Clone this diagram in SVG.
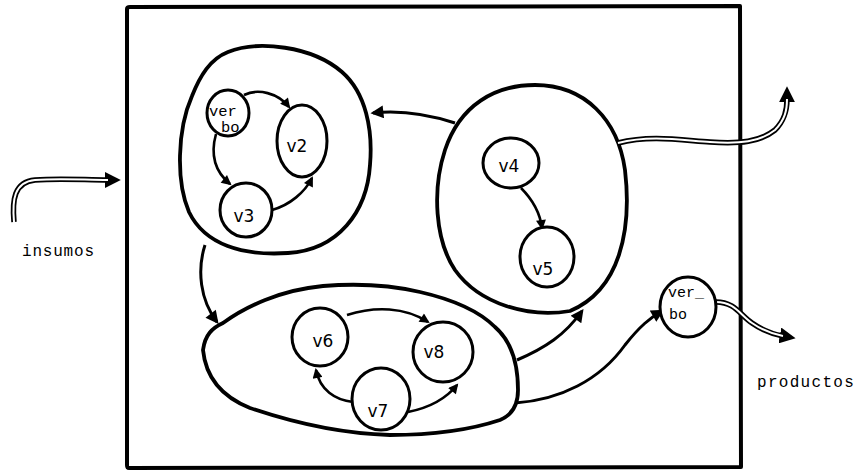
<svg xmlns="http://www.w3.org/2000/svg" width="864" height="476" viewBox="0 0 864 476">
  <defs>
    <marker id="ah" viewBox="0 0 10 10" refX="8" refY="5" markerWidth="14" markerHeight="13" markerUnits="userSpaceOnUse" orient="auto">
      <path d="M0,0 L10,5 L0,10 z" fill="#000"/>
    </marker>
    <marker id="ahs" viewBox="0 0 10 10" refX="8" refY="5" markerWidth="11" markerHeight="10" markerUnits="userSpaceOnUse" orient="auto">
      <path d="M0,0 L10,5 L0,10 z" fill="#000"/>
    </marker>
    <marker id="ahd" viewBox="0 0 10 10" refX="2" refY="5" markerWidth="16" markerHeight="16" markerUnits="userSpaceOnUse" orient="auto">
      <path d="M0,0 L10,5 L0,10 z" fill="#000"/>
    </marker>
  </defs>
  <style>
    .box { fill: none; stroke: #000; stroke-width: 4; stroke-linejoin: round; }
    .cluster { fill: none; stroke: #000; stroke-width: 3.8; }
    .node { fill: #fff; stroke: #000; stroke-width: 3; }
    .edge { fill: none; stroke: #000; stroke-width: 3; }
    .iedge { fill: none; stroke: #000; stroke-width: 2.6; }
    .pipe-o { fill: none; stroke: #000; stroke-width: 5.5; stroke-linecap: butt; }
    .pipe-i { fill: none; stroke: #fff; stroke-width: 2; }
    .lbl { font-family: "DejaVu Sans", "Liberation Sans", sans-serif; font-size: 17px; fill: #000; text-anchor: middle; }
    .mono { font-family: "Liberation Mono", "DejaVu Sans Mono", monospace; fill: #000; }
  </style>

  <rect width="864" height="476" fill="#fff"/>

  <!-- system boundary -->
  <path class="box" d="M127,9 Q127,7 130,7 L740,6 L741,467 L129,468 Q127,468 127,465 Z"/>

  <!-- subsystem outlines -->
  <g id="cluster-a">
    <path class="cluster" d="M228,52 C258,40 312,46 342,72 C366,93 373,130 370,165 C367,212 338,250 288,253 C243,256 205,245 189,212 C176,182 177,130 192,96 C200,76 210,59 228,52 Z"/>
  </g>
  <g id="cluster-b">
    <path class="cluster" d="M535,85 C585,85 618,120 625,170 C632,230 620,290 570,311 C530,318 480,305 455,270 C435,240 432,190 445,150 C460,105 495,85 535,85 Z"/>
  </g>
  <g id="cluster-c">
    <path class="cluster" d="M203,350 C205,335 212,328 223,323 C245,307 280,290 323,286 C360,283 390,285 420,292 C455,300 480,312 495,327 C510,340 518,360 518,390 C518,405 512,415 500,420 C470,430 430,435 390,435 C350,434 300,425 250,408 C225,398 206,380 203,350 Z"/>
  </g>

  <!-- connectors -->
  <g id="connectors">
    <!-- between subsystems -->
    <path class="edge" d="M455,123 C430,115 400,110 373,113" marker-end="url(#ah)"/>
    <path class="edge" d="M205,245 C197,270 200,300 217,322" marker-end="url(#ah)"/>
    <path class="edge" d="M517,360 C545,348 565,335 582,311" marker-end="url(#ah)"/>
    <path class="edge" d="M515,403 C560,400 600,380 625,345 C640,326 650,318 662,311" marker-end="url(#ah)"/>

    <!-- inside subsystem a -->
    <path class="iedge" d="M244,95 C258,88 278,93 289,107" marker-end="url(#ahs)"/>
    <path class="iedge" d="M216,134 C211,152 213,170 230,184" marker-end="url(#ahs)"/>
    <path class="iedge" d="M272,210 C290,205 305,192 312,178" marker-end="url(#ahs)"/>

    <!-- inside subsystem b -->
    <path class="iedge" d="M521,188 C533,200 540,213 542,228" marker-end="url(#ahs)"/>

    <!-- inside subsystem c -->
    <path class="iedge" d="M347,315 C375,306 405,307 428,322" marker-end="url(#ahs)"/>
    <path class="iedge" d="M353,402 C335,400 320,390 316,370" marker-end="url(#ahs)"/>
    <path class="iedge" d="M408,412 C428,408 445,400 457,385" marker-end="url(#ahs)"/>

    <!-- inputs and outputs (double lines) -->
    <path class="pipe-o" d="M14,222 C12,200 14,182 35,180 C60,178 85,180 108,180" marker-end="url(#ahd)"/>
    <path class="pipe-i" d="M14,222 C12,200 14,182 35,180 C60,178 85,180 108,180"/>

    <path class="pipe-o" d="M618,143 C650,135 680,140 710,142 C740,144 760,142 775,130 C785,120 787,110 787,99" marker-end="url(#ahd)"/>
    <path class="pipe-i" d="M618,143 C650,135 680,140 710,142 C740,144 760,142 775,130 C785,120 787,110 787,99"/>

    <path class="pipe-o" d="M716,302 C735,302 740,315 752,323 C762,330 772,334 783,336" marker-end="url(#ahd)"/>
    <path class="pipe-i" d="M716,302 C735,302 740,315 752,323 C762,330 772,334 783,336"/>
  </g>

  <!-- nodes -->
  <g id="verbo-a">
    <ellipse class="node" cx="228" cy="113" rx="21" ry="23"/>
    <text class="mono" x="209" y="116" font-size="15.5">ver</text>
    <text class="mono" x="221" y="132" font-size="15.5">bo</text>
  </g>
  <g id="v2">
    <ellipse class="node" cx="302" cy="141" rx="25" ry="36"/>
    <text class="lbl" x="297" y="152">v2</text>
  </g>
  <g id="v3">
    <ellipse class="node" cx="246" cy="210" rx="26" ry="27"/>
    <text class="lbl" x="244" y="222">v3</text>
  </g>
  <g id="v4">
    <ellipse class="node" cx="511" cy="163" rx="28" ry="25"/>
    <text class="lbl" x="509" y="172">v4</text>
  </g>
  <g id="v5">
    <ellipse class="node" cx="547" cy="257" rx="27" ry="30"/>
    <text class="lbl" x="543" y="275">v5</text>
  </g>
  <g id="v6">
    <ellipse class="node" cx="320" cy="337" rx="28" ry="29"/>
    <text class="lbl" x="323" y="347">v6</text>
  </g>
  <g id="v8">
    <ellipse class="node" cx="443" cy="352" rx="30" ry="30"/>
    <text class="lbl" x="434" y="358">v8</text>
  </g>
  <g id="v7">
    <ellipse class="node" cx="381" cy="399" rx="29" ry="31"/>
    <text class="lbl" x="378" y="417">v7</text>
  </g>
  <g id="verbo-b">
    <ellipse class="node" cx="688" cy="307" rx="28" ry="30"/>
    <text class="mono" x="668" y="297" font-size="15">ver_</text>
    <text class="mono" x="669" y="319" font-size="15">bo</text>
  </g>

  <!-- flow labels -->
  <text class="mono" x="22" y="256" font-size="16" letter-spacing="0.8">insumos</text>
  <text class="mono" x="757" y="387" font-size="16" letter-spacing="1.3">productos</text>
</svg>
